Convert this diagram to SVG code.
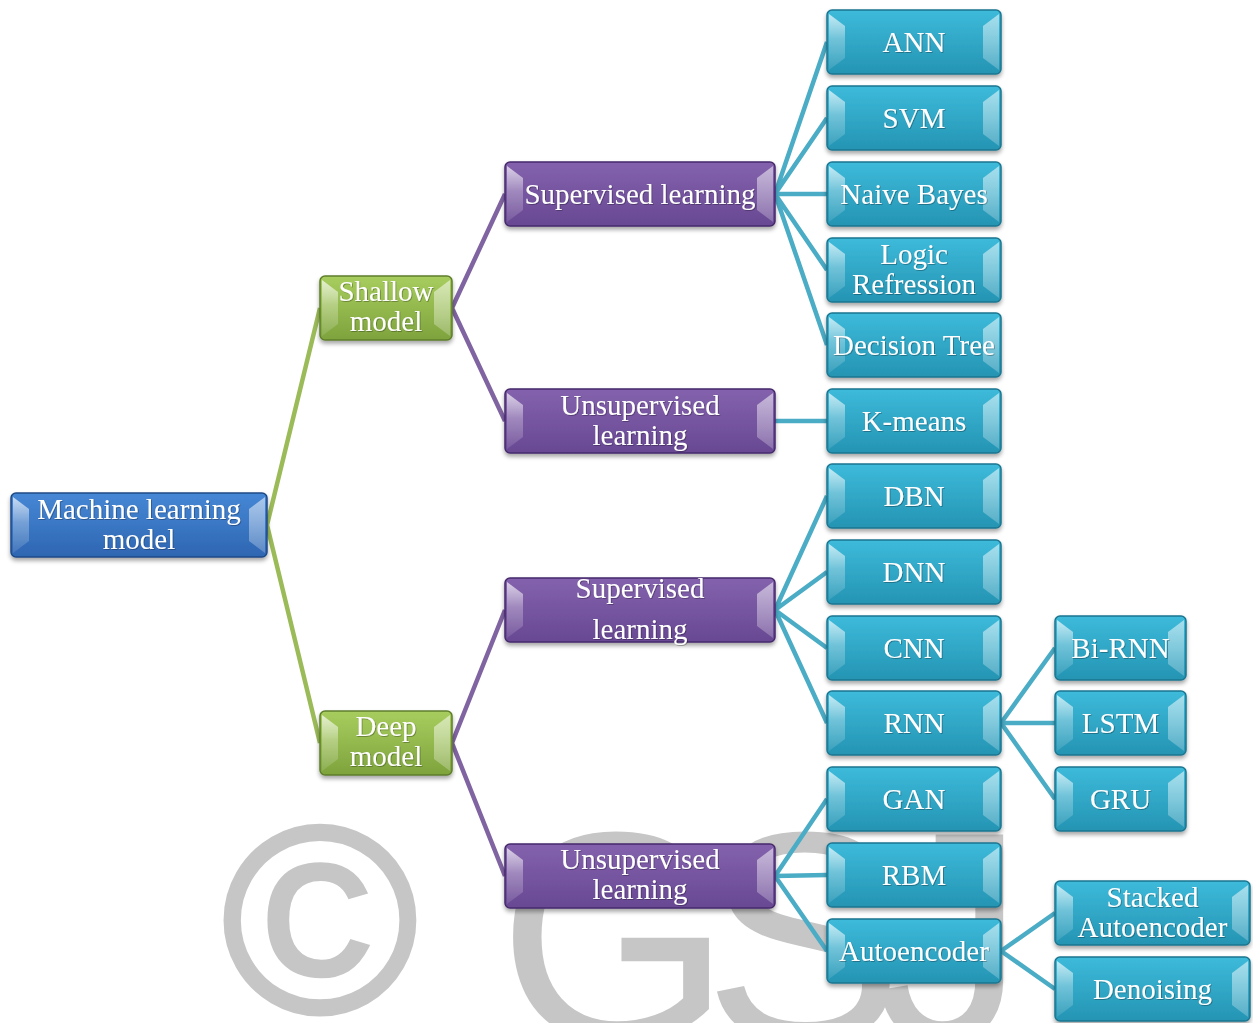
<svg xmlns="http://www.w3.org/2000/svg" width="1253" height="1023" viewBox="0 0 1253 1023">
  <defs>
    <linearGradient id="gTeal" x1="0" y1="0" x2="0" y2="1">
      <stop offset="0" stop-color="#3dbada"/>
      <stop offset="1" stop-color="#2594b3"/>
    </linearGradient>
    <linearGradient id="gPurple" x1="0" y1="0" x2="0" y2="1">
      <stop offset="0" stop-color="#8462ad"/>
      <stop offset="1" stop-color="#684893"/>
    </linearGradient>
    <linearGradient id="gGreen" x1="0" y1="0" x2="0" y2="1">
      <stop offset="0" stop-color="#a8cd5e"/>
      <stop offset="1" stop-color="#7ea33d"/>
    </linearGradient>
    <linearGradient id="gBlue" x1="0" y1="0" x2="0" y2="1">
      <stop offset="0" stop-color="#4687d5"/>
      <stop offset="1" stop-color="#2e66b2"/>
    </linearGradient>
    <!-- white highlight overlays for the bevel facets -->
    <linearGradient id="hiL" x1="0" y1="0" x2="0" y2="1">
      <stop offset="0" stop-color="#fff" stop-opacity="0.7"/>
      <stop offset="0.45" stop-color="#fff" stop-opacity="0.3"/>
      <stop offset="1" stop-color="#fff" stop-opacity="0.1"/>
    </linearGradient>
    <linearGradient id="hiR" x1="0" y1="0" x2="0" y2="1">
      <stop offset="0" stop-color="#fff" stop-opacity="0.55"/>
      <stop offset="1" stop-color="#fff" stop-opacity="0.22"/>
    </linearGradient>
    <filter id="shadow" x="-10%" y="-20%" width="120%" height="150%">
      <feDropShadow dx="0" dy="3" stdDeviation="2" flood-color="#000" flood-opacity="0.35"/>
    </filter>
    <filter id="tshadow" x="-5%" y="-20%" width="110%" height="140%">
      <feDropShadow dx="0.8" dy="0.8" stdDeviation="0.6" flood-color="#000" flood-opacity="0.35"/>
    </filter>
  </defs>
  <style>
    .wm { font-family: "Liberation Sans", Arial, sans-serif; fill: #c6c6c6; }
    .face { filter: url(#shadow); stroke-width: 1.5; }
    .teal .face { fill: url(#gTeal); stroke: #1d7690; }
    .purple .face { fill: url(#gPurple); stroke: #46296c; }
    .green .face { fill: url(#gGreen); stroke: #5e7e2b; }
    .blue .face { fill: url(#gBlue); stroke: #1f4a86; }
    .bl { fill: url(#hiL); }
    .br { fill: url(#hiR); }
    .node text { font-family: "Liberation Serif", "Times New Roman", serif; font-size: 29px; fill: #fff; text-anchor: middle; filter: url(#tshadow); }
    .conn path { fill: none; stroke-width: 4.5; stroke-linejoin: round; }
    .c-green { stroke: #9bbb59; }
    .c-purple { stroke: #8064a2; }
    .c-teal { stroke: #4bacc6; }
  </style>

  <rect width="1253" height="1023" fill="#fff"/>

  <!-- background copyright mark -->
  <g id="watermark">
    <text class="wm" x="222" y="1012" font-size="266" stroke="#c6c6c6" stroke-width="5">©</text>
    <text class="wm" x="498" y="1041" font-size="300" letter-spacing="-28">GSJ</text>
  </g>

  <!-- connectors -->
  <g id="connectors" class="conn">
    <path class="c-green" d="M320,308 L267,525 L320,743"/>
    <path class="c-purple" d="M505,194 L452,308 L505,421"/>
    <path class="c-purple" d="M505,610 L452,743 L505,876"/>
    <path class="c-teal" d="M775,194 L827,42 M775,194 L827,118 M775,194 L827,194 M775,194 L827,270 M775,194 L827,345"/>
    <path class="c-teal" d="M775,421 L827,421"/>
    <path class="c-teal" d="M775,610 L827,496 M775,610 L827,572 M775,610 L827,648 M775,610 L827,723"/>
    <path class="c-teal" d="M775,876 L827,799 M775,876 L827,875 M775,876 L827,951"/>
    <path class="c-teal" d="M1001,723 L1055,648 M1001,723 L1055,723 M1001,723 L1055,799"/>
    <path class="c-teal" d="M1001,951 L1055,913 M1001,951 L1055,989"/>
  </g>

  <!-- root -->
  <g id="n-root" class="node blue">
    <rect class="face" x="11" y="493" width="256" height="64" rx="5"/>
    <polygon class="bl" points="13,497 29,509 29,541 13,553"/>
    <polygon class="br" points="265,497 249,509 249,541 265,553"/>
    <text x="139" y="519">Machine learning</text>
    <text x="139" y="549">model</text>
  </g>

  <!-- model families -->
  <g id="n-shallow" class="node green">
    <rect class="face" x="320" y="276" width="132" height="64" rx="5"/>
    <polygon class="bl" points="322,280 338,292 338,324 322,336"/>
    <polygon class="br" points="450,280 434,292 434,324 450,336"/>
    <text x="386" y="301">Shallow</text>
    <text x="386" y="331">model</text>
  </g>
  <g id="n-deep" class="node green">
    <rect class="face" x="320" y="711" width="132" height="64" rx="5"/>
    <polygon class="bl" points="322,715 338,727 338,759 322,771"/>
    <polygon class="br" points="450,715 434,727 434,759 450,771"/>
    <text x="386" y="736">Deep</text>
    <text x="386" y="766">model</text>
  </g>

  <!-- learning types -->
  <g id="n-sup1" class="node purple">
    <rect class="face" x="505" y="162" width="270" height="64" rx="5"/>
    <polygon class="bl" points="507,166 523,178 523,210 507,222"/>
    <polygon class="br" points="773,166 757,178 757,210 773,222"/>
    <text x="640" y="203.5">Supervised learning</text>
  </g>
  <g id="n-unsup1" class="node purple">
    <rect class="face" x="505" y="389" width="270" height="64" rx="5"/>
    <polygon class="bl" points="507,393 523,405 523,437 507,449"/>
    <polygon class="br" points="773,393 757,405 757,437 773,449"/>
    <text x="640" y="415">Unsupervised</text>
    <text x="640" y="445">learning</text>
  </g>
  <g id="n-sup2" class="node purple">
    <rect class="face" x="505" y="578" width="270" height="64" rx="5"/>
    <polygon class="bl" points="507,582 523,594 523,626 507,638"/>
    <polygon class="br" points="773,582 757,594 757,626 773,638"/>
    <text x="640" y="598">Supervised</text>
    <text x="640" y="639">learning</text>
  </g>
  <g id="n-unsup2" class="node purple">
    <rect class="face" x="505" y="844" width="270" height="64" rx="5"/>
    <polygon class="bl" points="507,848 523,860 523,892 507,904"/>
    <polygon class="br" points="773,848 757,860 757,892 773,904"/>
    <text x="640" y="869">Unsupervised</text>
    <text x="640" y="899">learning</text>
  </g>

  <!-- algorithms -->
  <g id="n-ann" class="node teal">
    <rect class="face" x="827" y="10" width="174" height="64" rx="5"/>
    <polygon class="bl" points="829,14 845,26 845,58 829,70"/>
    <polygon class="br" points="999,14 983,26 983,58 999,70"/>
    <text x="914" y="51.5">ANN</text>
  </g>
  <g id="n-svm" class="node teal">
    <rect class="face" x="827" y="86" width="174" height="64" rx="5"/>
    <polygon class="bl" points="829,90 845,102 845,134 829,146"/>
    <polygon class="br" points="999,90 983,102 983,134 999,146"/>
    <text x="914" y="127.5">SVM</text>
  </g>
  <g id="n-nb" class="node teal">
    <rect class="face" x="827" y="162" width="174" height="64" rx="5"/>
    <polygon class="bl" points="829,166 845,178 845,210 829,222"/>
    <polygon class="br" points="999,166 983,178 983,210 999,222"/>
    <text x="914" y="203.5">Naive Bayes</text>
  </g>
  <g id="n-logic" class="node teal">
    <rect class="face" x="827" y="238" width="174" height="64" rx="5"/>
    <polygon class="bl" points="829,242 845,254 845,286 829,298"/>
    <polygon class="br" points="999,242 983,254 983,286 999,298"/>
    <text x="914" y="263.5">Logic</text>
    <text x="914" y="293.5">Refression</text>
  </g>
  <g id="n-dt" class="node teal">
    <rect class="face" x="827" y="313" width="174" height="64" rx="5"/>
    <polygon class="bl" points="829,317 845,329 845,361 829,373"/>
    <polygon class="br" points="999,317 983,329 983,361 999,373"/>
    <text x="914" y="354.5">Decision Tree</text>
  </g>
  <g id="n-kmeans" class="node teal">
    <rect class="face" x="827" y="389" width="174" height="64" rx="5"/>
    <polygon class="bl" points="829,393 845,405 845,437 829,449"/>
    <polygon class="br" points="999,393 983,405 983,437 999,449"/>
    <text x="914" y="430.5">K-means</text>
  </g>
  <g id="n-dbn" class="node teal">
    <rect class="face" x="827" y="464" width="174" height="64" rx="5"/>
    <polygon class="bl" points="829,468 845,480 845,512 829,524"/>
    <polygon class="br" points="999,468 983,480 983,512 999,524"/>
    <text x="914" y="505.5">DBN</text>
  </g>
  <g id="n-dnn" class="node teal">
    <rect class="face" x="827" y="540" width="174" height="64" rx="5"/>
    <polygon class="bl" points="829,544 845,556 845,588 829,600"/>
    <polygon class="br" points="999,544 983,556 983,588 999,600"/>
    <text x="914" y="581.5">DNN</text>
  </g>
  <g id="n-cnn" class="node teal">
    <rect class="face" x="827" y="616" width="174" height="64" rx="5"/>
    <polygon class="bl" points="829,620 845,632 845,664 829,676"/>
    <polygon class="br" points="999,620 983,632 983,664 999,676"/>
    <text x="914" y="657.5">CNN</text>
  </g>
  <g id="n-rnn" class="node teal">
    <rect class="face" x="827" y="691" width="174" height="64" rx="5"/>
    <polygon class="bl" points="829,695 845,707 845,739 829,751"/>
    <polygon class="br" points="999,695 983,707 983,739 999,751"/>
    <text x="914" y="732.5">RNN</text>
  </g>
  <g id="n-gan" class="node teal">
    <rect class="face" x="827" y="767" width="174" height="64" rx="5"/>
    <polygon class="bl" points="829,771 845,783 845,815 829,827"/>
    <polygon class="br" points="999,771 983,783 983,815 999,827"/>
    <text x="914" y="808.5">GAN</text>
  </g>
  <g id="n-rbm" class="node teal">
    <rect class="face" x="827" y="843" width="174" height="64" rx="5"/>
    <polygon class="bl" points="829,847 845,859 845,891 829,903"/>
    <polygon class="br" points="999,847 983,859 983,891 999,903"/>
    <text x="914" y="884.5">RBM</text>
  </g>
  <g id="n-ae" class="node teal">
    <rect class="face" x="827" y="919" width="174" height="64" rx="5"/>
    <polygon class="bl" points="829,923 845,935 845,967 829,979"/>
    <polygon class="br" points="999,923 983,935 983,967 999,979"/>
    <text x="914" y="960.5">Autoencoder</text>
  </g>

  <!-- RNN variants -->
  <g id="n-birnn" class="node teal">
    <rect class="face" x="1055" y="616" width="131" height="64" rx="5"/>
    <polygon class="bl" points="1057,620 1073,632 1073,664 1057,676"/>
    <polygon class="br" points="1184,620 1168,632 1168,664 1184,676"/>
    <text x="1120.5" y="657.5">Bi-RNN</text>
  </g>
  <g id="n-lstm" class="node teal">
    <rect class="face" x="1055" y="691" width="131" height="64" rx="5"/>
    <polygon class="bl" points="1057,695 1073,707 1073,739 1057,751"/>
    <polygon class="br" points="1184,695 1168,707 1168,739 1184,751"/>
    <text x="1120.5" y="732.5">LSTM</text>
  </g>
  <g id="n-gru" class="node teal">
    <rect class="face" x="1055" y="767" width="131" height="64" rx="5"/>
    <polygon class="bl" points="1057,771 1073,783 1073,815 1057,827"/>
    <polygon class="br" points="1184,771 1168,783 1168,815 1184,827"/>
    <text x="1120.5" y="808.5">GRU</text>
  </g>

  <!-- autoencoder variants -->
  <g id="n-stacked" class="node teal">
    <rect class="face" x="1055" y="881" width="195" height="64" rx="5"/>
    <polygon class="bl" points="1057,885 1073,897 1073,929 1057,941"/>
    <polygon class="br" points="1248,885 1232,897 1232,929 1248,941"/>
    <text x="1152.5" y="906.5">Stacked</text>
    <text x="1152.5" y="936.5">Autoencoder</text>
  </g>
  <g id="n-denoise" class="node teal">
    <rect class="face" x="1055" y="957" width="195" height="64" rx="5"/>
    <polygon class="bl" points="1057,961 1073,973 1073,1005 1057,1017"/>
    <polygon class="br" points="1248,961 1232,973 1232,1005 1248,1017"/>
    <text x="1152.5" y="998.5">Denoising</text>
  </g>
</svg>
